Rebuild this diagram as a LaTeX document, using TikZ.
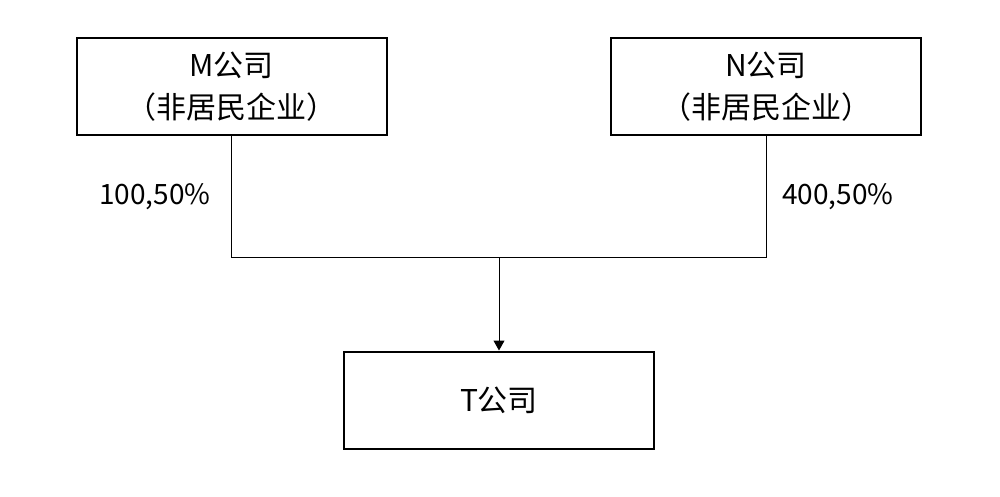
\documentclass[tikz,border=0pt]{standalone}
\usepackage{fontspec}
\setmainfont{Noto Sans CJK SC}
\usetikzlibrary{arrows.meta}
\begin{document}
\begin{tikzpicture}[x=1pt,y=-1pt,
  company/.style={draw,line width=2pt,minimum width=310pt,minimum height=97pt,inner sep=0pt,align=center,font=\fontsize{30}{42}\selectfont},
  share/.style={font=\fontsize{28}{32}\selectfont,inner sep=0pt},
  conn/.style={line width=1pt}]
\useasboundingbox (0,0) rectangle (1000,497);
\node[company] (M) at (231.5,87) {M公司\\（非居民企业）};
\node[company] (N) at (766,87) {N公司\\（非居民企业）};
\node[company] (T) at (499,400) {T公司};
\coordinate (jm) at (M.south |- 0,257);
\coordinate (jn) at (N.south |- 0,257);
\coordinate (jt) at (T.north |- 0,257);
\draw[conn] (M.south) -- (jm) -- (jn) -- (N.south);
\draw[conn,-{Triangle[length=10pt,width=11pt]}] (jt) -- (T.north);
\node[share] (lm) at (155,197) {100,50\%};
\node[share] (ln) at (838,197) {400,50\%};
\end{tikzpicture}
\end{document}
